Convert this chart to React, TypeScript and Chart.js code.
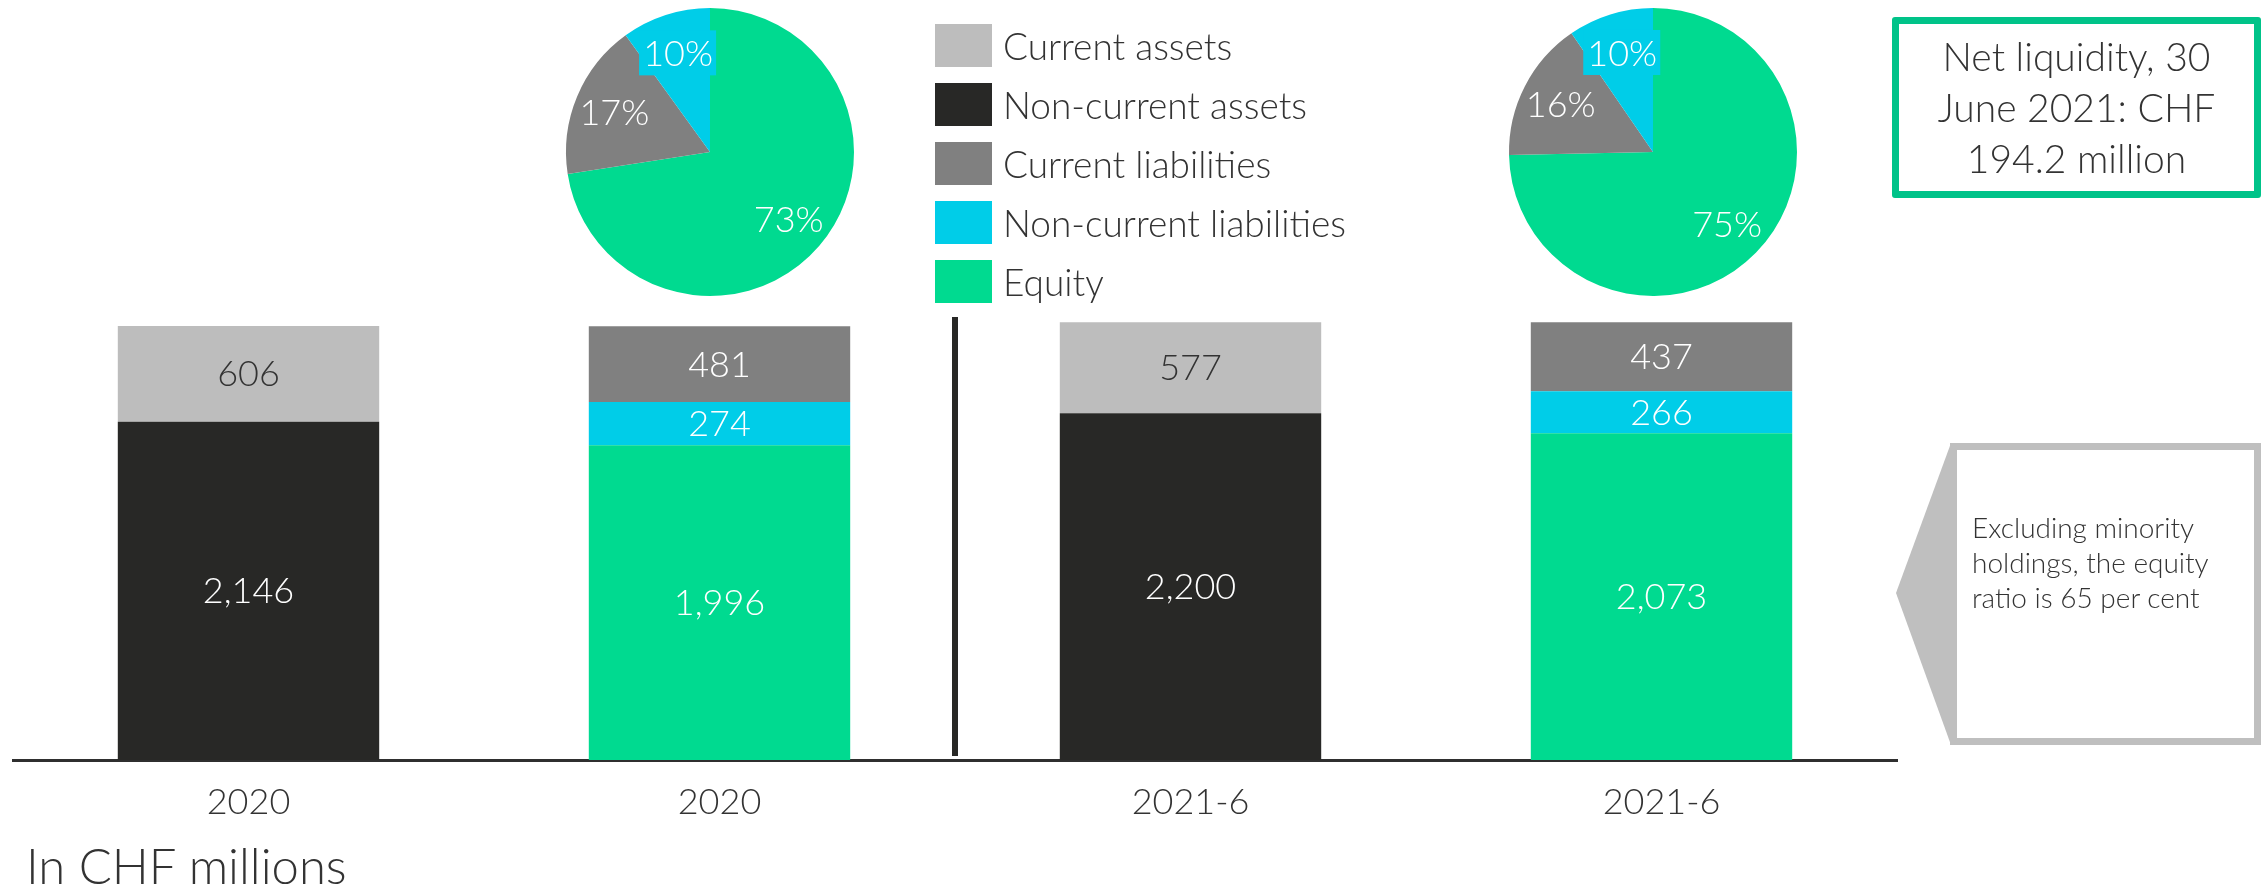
import React, { useEffect, useRef } from 'react';
import { Chart, registerables } from 'chart.js';

Chart.register(...registerables);

// ---------- data ----------
const categories = ['2020', '2020', '2021-6', '2021-6'];
const seriesNames = ['Current assets', 'Non-current assets', 'Current liabilities', 'Non-current liabilities', 'Equity'];
const seriesColors = ['#BDBDBD', '#282826', '#808080', '#00CDE8', '#00DA90'];
const nonCurrentAssets = [2146, null, 2200, null];
const currentAssets = [606, null, 577, null];
const equity = [null, 1996, null, 2073];
const nonCurrentLiabilities = [null, 274, null, 266];
const currentLiabilities = [null, 481, null, 437];
const pieLabels = ['Equity', 'Current liabilities', 'Non-current liabilities'];
const pie2020 = [1996, 481, 274];
const pie2021 = [2073, 437, 266];
const yMax = 3000;
const unitLabel = 'In CHF millions';
const netLiquidityText = ['Net liquidity, 30', 'June 2021: CHF', '194.2 million'];
const noteText = ['Excluding minority', 'holdings, the equity', 'ratio is 65 per cent'];

const FONT = 'Lato, "Noto Sans", sans-serif';
const TEXT = '#333333';

const fmt = (v: number) => v.toLocaleString('en-US');

const barLabelPlugin = {
  id: 'barLabels',
  afterDatasetsDraw(chart: any) {
    const ctx = chart.ctx;
    ctx.save();
    ctx.font = `300 36px ${FONT}`;
    ctx.textAlign = 'center';
    ctx.textBaseline = 'middle';
    chart.data.datasets.forEach((ds: any, di: number) => {
      const meta = chart.getDatasetMeta(di);
      meta.data.forEach((el: any, i: number) => {
        const v = ds.data[i];
        if (v == null) return;
        const { x, y, base } = el.getProps(['x', 'y', 'base'], true);
        ctx.fillStyle = ds.labelColor;
        ctx.fillText(fmt(v), x, (y + base) / 2 + 1);
      });
    });
    ctx.restore();
  },
};

const dividerPlugin = {
  id: 'divider',
  afterDraw(chart: any) {
    const xs = chart.scales.x;
    const ca = chart.chartArea;
    const x = (xs.getPixelForValue(1) + xs.getPixelForValue(2)) / 2;
    const ctx = chart.ctx;
    ctx.save();
    ctx.strokeStyle = '#282826';
    ctx.lineWidth = 6;
    ctx.beginPath();
    ctx.moveTo(x, ca.top + 30);
    ctx.lineTo(x, ca.bottom - 4);
    ctx.stroke();
    ctx.restore();
  },
};

const pieLabelPlugin = {
  id: 'pieLabels',
  afterDatasetsDraw(chart: any) {
    const ctx = chart.ctx;
    const ds = chart.data.datasets[0];
    const total = ds.data.reduce((a: number, b: number) => a + b, 0);
    const meta = chart.getDatasetMeta(0);
    ctx.save();
    ctx.font = `300 36px ${FONT}`;
    ctx.textAlign = 'center';
    ctx.textBaseline = 'middle';
    meta.data.forEach((arc: any, i: number) => {
      const { x, y, startAngle, endAngle, outerRadius } = arc.getProps(['x', 'y', 'startAngle', 'endAngle', 'outerRadius'], true);
      const mid = (startAngle + endAngle) / 2;
      const r = outerRadius * 0.72;
      const px = x + Math.cos(mid) * r;
      const py = y + Math.sin(mid) * r;
      if (i === 2) {
        ctx.fillStyle = ds.backgroundColor[i];
        ctx.fillRect(px - 39, py - 23, 77, 45);
      }
      ctx.fillStyle = '#ffffff';
      ctx.fillText(Math.round((ds.data[i] / total) * 100) + '%', px, py + 1);
    });
    ctx.restore();
  },
};

function BarChart() {
  const ref = useRef<HTMLCanvasElement>(null);
  useEffect(() => {
    const mk = (label: string, data: any[], color: string, labelColor: string) => ({
      label, data, backgroundColor: color, labelColor, borderWidth: 0, stack: 's',
    });
    const chart = new Chart(ref.current!, {
      type: 'bar',
      data: {
        labels: categories,
        datasets: [
          mk(seriesNames[1], nonCurrentAssets, seriesColors[1], '#ffffff'),
          mk(seriesNames[0], currentAssets, seriesColors[0], TEXT),
          mk(seriesNames[4], equity, seriesColors[4], '#ffffff'),
          mk(seriesNames[3], nonCurrentLiabilities, seriesColors[3], '#ffffff'),
          mk(seriesNames[2], currentLiabilities, seriesColors[2], '#ffffff'),
        ] as any,
      },
      options: {
        animation: false,
        responsive: false,
        layout: { padding: { left: 13, right: 23, top: 287, bottom: 0 } },
        datasets: { bar: { categoryPercentage: 1, barPercentage: 0.555, skipNull: true } },
        plugins: { legend: { display: false }, tooltip: { enabled: false } },
        scales: {
          x: {
            stacked: true,
            grid: { display: true, color: 'rgba(0,0,0,0)', drawTicks: false },
            border: { display: true, color: '#2f2f2f', width: 3 },
            ticks: { color: TEXT, font: { family: FONT, size: 36, weight: '300' }, padding: 21, maxRotation: 0, autoSkip: false },
            afterFit: (s: any) => { s.height = 70; },
          },
          y: { stacked: true, display: false, min: 0, max: yMax },
        },
      } as any,
      plugins: [barLabelPlugin, dividerPlugin],
    });
    return () => chart.destroy();
  }, []);
  return <canvas ref={ref} width={1920} height={830} style={{ position: 'absolute', left: 0, top: 0 }} />;
}

function PieChart({ data, left }: { data: number[]; left: number }) {
  const ref = useRef<HTMLCanvasElement>(null);
  useEffect(() => {
    const chart = new Chart(ref.current!, {
      type: 'pie',
      data: {
        labels: pieLabels,
        datasets: [{ data, backgroundColor: [seriesColors[4], seriesColors[2], seriesColors[3]], borderWidth: 0 }],
      },
      options: {
        animation: false,
        responsive: false,
        layout: { padding: 6 },
        plugins: { legend: { display: false }, tooltip: { enabled: false } },
      } as any,
      plugins: [pieLabelPlugin],
    });
    return () => chart.destroy();
  }, []);
  return <canvas ref={ref} width={300} height={300} style={{ position: 'absolute', left, top: 2 }} />;
}

export default function App() {
  return (
    <div style={{ position: 'absolute', left: 0, top: 0, width: 2261, height: 889, background: '#fff', overflow: 'hidden', fontFamily: FONT, fontWeight: 300, color: TEXT }}>
      <BarChart />
      <PieChart data={pie2020} left={560} />
      <PieChart data={pie2021} left={1503} />
      {seriesNames.map((name, i) => (
        <div key={name} style={{ position: 'absolute', left: 935, top: 24 + i * 59, height: 43, display: 'flex', alignItems: 'center' }}>
          <div style={{ width: 57, height: 43, background: seriesColors[i] }} />
          <div style={{ marginLeft: 11, fontSize: 37, lineHeight: '43px', whiteSpace: 'nowrap' }}>{name}</div>
        </div>
      ))}
      <div style={{ position: 'absolute', left: 26, top: 837, fontSize: 49, lineHeight: '56px', whiteSpace: 'nowrap' }}>{unitLabel}</div>
      <div style={{ position: 'absolute', left: 1892, top: 17, width: 369, height: 181, boxSizing: 'border-box', border: '7px solid #00C389', borderRadius: 3, display: 'flex', flexDirection: 'column', justifyContent: 'center', alignItems: 'center' }}>
        {netLiquidityText.map((t) => (
          <div key={t} style={{ fontSize: 39, lineHeight: '51px', whiteSpace: 'nowrap' }}>{t}</div>
        ))}
      </div>
      <svg width={2261} height={889} style={{ position: 'absolute', left: 0, top: 0 }}>
        <polygon points="1951,443 1896,593 1951,745" fill="#BFBFBF" />
      </svg>
      <div style={{ position: 'absolute', left: 1950, top: 443, width: 311, height: 302, boxSizing: 'border-box', border: '7px solid #BFBFBF', background: '#fff' }}>
        <div style={{ position: 'absolute', left: 15, top: 60, fontSize: 28, lineHeight: '35px', whiteSpace: 'nowrap' }}>
          {noteText.map((t) => (<div key={t}>{t}</div>))}
        </div>
      </div>
    </div>
  );
}
